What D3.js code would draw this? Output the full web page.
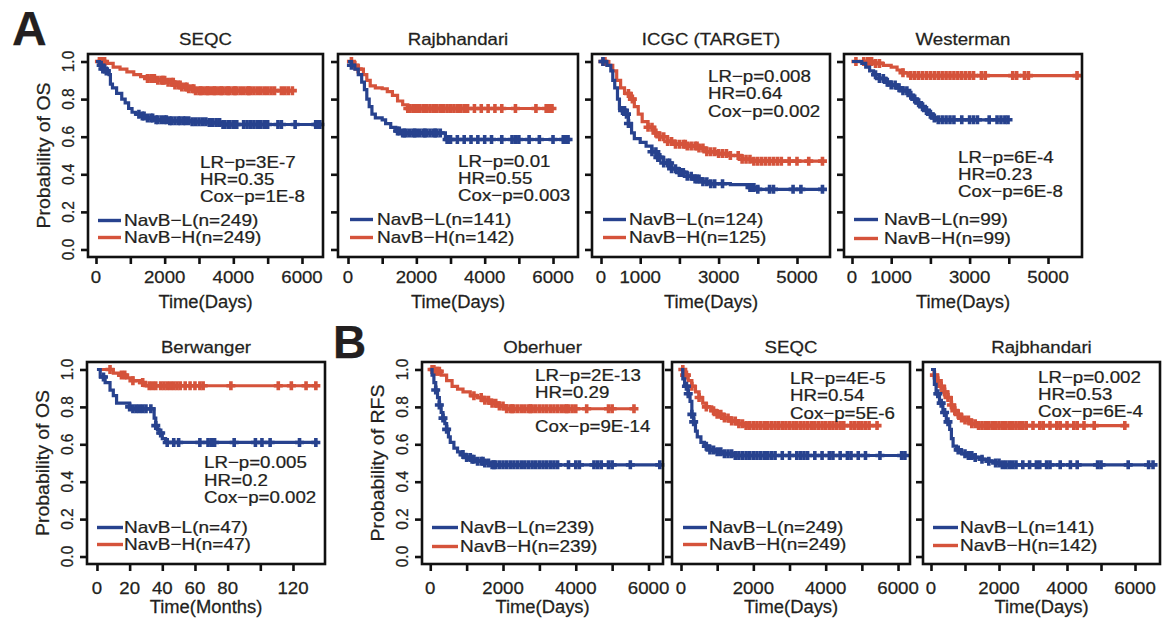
<!DOCTYPE html>
<html>
<head>
<meta charset="utf-8">
<script src="https://cdn.jsdelivr.net/npm/d3@7"></script>
<style>
  body { margin: 0; background: #fff; }
  svg { display: block; }
  text { font-family: "Liberation Sans", Arial, Helvetica, sans-serif; fill: #231f20; stroke: #231f20; stroke-width: 0.25; }
</style>
</head>
<body>
<script>
// Kaplan-Meier panels, NavB-L (blue) vs NavB-H (red)
// steps are [time, survival], censor lists are times only

// A: SEQC (OS, days)
var seqcOS_L = [[0,1],[100,0.98],[200,0.96],[300,0.95],[380,0.93],[420,0.88],[480,0.86],[600,0.83],[750,0.80],[850,0.78],[950,0.75],[1050,0.73],[1150,0.72],[1300,0.71],[1500,0.70],[1700,0.69],[2100,0.685],[2800,0.68],[3300,0.675],[3700,0.665],[6520,0.665]];
var seqcOS_H = [[0,1],[300,0.99],[500,0.97],[700,0.96],[900,0.945],[1100,0.93],[1300,0.92],[1500,0.91],[1800,0.90],[2100,0.89],[2300,0.875],[2500,0.865],[2700,0.855],[2900,0.845],[5720,0.845]];
var seqcOS_Lc = [150,200,250,300,1250,1350,1400,1500,1600,1650,1750,1800,1900,2000,2050,2150,2200,2300,2400,2450,2550,2600,2700,2800,2900,3000,3100,3200,3300,3400,3500,3600,3700,3750,3850,3900,4000,4050,4100,4300,4400,4500,4600,4700,4800,4900,5000,5300,5400,5800,6400,6450,6520];
var seqcOS_Hc = [100,150,200,250,1500,1600,1650,1700,1800,1900,1950,2000,2100,2200,2250,2300,2400,2450,2500,2600,2650,2700,2800,2850,2900,3000,3050,3100,3200,3250,3300,3400,3450,3500,3600,3650,3700,3800,3850,3900,4000,4050,4100,4200,4300,4400,4450,4500,4600,4700,4800,4900,5000,5100,5200,5400,5500,5600,5720];

// A: Rajbhandari (OS, days)
var rajOS_L = [[0,1],[100,0.98],[200,0.96],[300,0.93],[400,0.89],[480,0.85],[550,0.80],[620,0.76],[700,0.72],[800,0.70],[1000,0.69],[1100,0.67],[1250,0.65],[1400,0.63],[1550,0.62],[2750,0.62],[2850,0.585],[6440,0.585]];
var rajOS_H = [[0,1],[150,0.98],[300,0.96],[450,0.93],[550,0.90],[650,0.87],[800,0.86],[1000,0.855],[1150,0.84],[1300,0.82],[1450,0.79],[1600,0.77],[1750,0.75],[5970,0.75]];
var rajOS_Lc = [100,1450,1500,1600,1650,1700,1800,1900,1950,2000,2100,2200,2250,2300,2400,2500,2550,2600,2700,2900,2950,3000,3200,3400,3600,3800,4000,4200,4500,4800,4900,5000,5300,5600,6000,6300,6380,6440];
var rajOS_Hc = [100,200,300,1750,1800,1900,1950,2000,2100,2200,2250,2300,2400,2500,2550,2600,2700,2800,2900,3000,3100,3200,3300,3400,3500,3700,3900,4100,4300,4500,4900,5500,5800,5900,5970];

// A: ICGC (TARGET) (OS, days)
var icgcOS_L = [[0,1],[150,0.98],[250,0.95],[300,0.90],[350,0.86],[420,0.80],[470,0.75],[550,0.74],[650,0.72],[700,0.67],[780,0.62],[850,0.59],[1000,0.57],[1150,0.55],[1300,0.52],[1450,0.49],[1600,0.46],[1800,0.43],[2000,0.41],[2200,0.39],[2400,0.375],[2600,0.36],[2800,0.35],[3300,0.345],[3800,0.33],[4000,0.32],[5650,0.32]];
var icgcOS_H = [[0,1],[200,0.98],[300,0.95],[400,0.90],[500,0.86],[600,0.83],[750,0.80],[850,0.76],[950,0.72],[1050,0.68],[1200,0.65],[1350,0.62],[1500,0.60],[1700,0.575],[1900,0.56],[2200,0.55],[2500,0.54],[2700,0.52],[3000,0.51],[3300,0.50],[3600,0.48],[3900,0.47],[5650,0.47]];
var icgcOS_Lc = [50,550,600,650,700,1300,1400,1450,1500,1600,1700,1750,1800,1900,2000,2050,2100,2200,2300,2400,2450,2500,2600,2700,2800,2900,3100,3800,3850,3900,4000,4300,4400,4900,5100,5650];
var icgcOS_Hc = [50,100,700,800,1200,1300,1400,1500,1600,1700,1800,1900,2000,2100,2150,2200,2300,2400,2450,2500,2600,2700,2800,2900,3000,3100,3200,3300,3500,3600,3700,3800,3900,4000,4100,4200,4300,4400,4500,4600,4800,5000,5300,5650];

// A: Westerman (OS, days)
var westOS_L = [[0,1],[250,0.99],[350,0.97],[450,0.95],[550,0.93],[700,0.91],[850,0.89],[1000,0.875],[1150,0.86],[1300,0.845],[1450,0.82],[1550,0.80],[1650,0.78],[1750,0.76],[1850,0.74],[1950,0.72],[2050,0.70],[2150,0.69],[3980,0.69]];
var westOS_H = [[0,1],[600,0.99],[800,0.98],[1000,0.97],[1150,0.955],[1300,0.94],[1450,0.925],[5740,0.925]];
var westOS_Lc = [600,700,800,900,1000,1100,1200,1300,1400,1500,1600,1700,1800,1900,2000,2100,2200,2300,2400,2500,2600,2800,3000,3100,3200,3500,3700,3800,3900,3980];
var westOS_Hc = [100,300,400,450,500,600,700,1300,1500,1600,1700,1800,1900,2000,2100,2200,2300,2400,2500,2600,2700,2800,2900,3000,3100,3300,3400,4100,4200,4400,4500,5740];

// A: Berwanger (OS, months)
var berwOS_L = [[0,1],[2,0.96],[5,0.93],[8,0.89],[10,0.86],[12,0.82],[20,0.80],[22,0.79],[34,0.79],[35,0.74],[36,0.70],[37,0.68],[38,0.66],[40,0.63],[42,0.61],[135,0.61]];
var berwOS_H = [[0,1],[10,0.98],[14,0.97],[18,0.955],[22,0.94],[26,0.93],[29,0.913],[135,0.913]];
var berwOS_Lc = [4,20,22,24,26,28,30,33,36,39,43,47,50,63,68,70,72,84,97,101,106,124,134];
var berwOS_Hc = [8,15,17,22,28,32,34,36,39,41,43,45,47,49,51,54,57,60,63,65,82,111,119,128,134];

// B: Oberhuer (RFS, days)
var oberRFS_L = [[0,1],[50,0.97],[100,0.93],[150,0.89],[200,0.85],[250,0.81],[300,0.77],[350,0.74],[400,0.71],[450,0.68],[500,0.64],[550,0.61],[650,0.58],[750,0.56],[850,0.545],[1000,0.53],[1150,0.52],[1300,0.51],[1500,0.50],[1650,0.49],[6310,0.49]];
var oberRFS_H = [[0,1],[150,0.99],[300,0.97],[450,0.94],[600,0.91],[750,0.895],[900,0.88],[1100,0.86],[1300,0.85],[1500,0.835],[1700,0.82],[1900,0.805],[2100,0.79],[5600,0.79]];
var oberRFS_Lc = [150,250,350,450,900,1000,1100,1150,1200,1300,1400,1450,1500,1600,1700,1750,1800,1900,2000,2100,2200,2300,2400,2500,2600,2700,2800,2900,3000,3100,3200,3300,3400,3500,3800,4000,4100,4500,4600,4700,4900,5000,5500,6310];
var oberRFS_Hc = [50,100,150,200,250,1200,1400,1500,1600,1700,1800,1900,2000,2100,2200,2250,2300,2400,2500,2600,2700,2750,2800,2900,3000,3100,3200,3300,3400,3500,3600,3700,3750,3800,3900,4000,4300,4900,5000,5600];

// B: SEQC (RFS, days)
var seqcRFS_L = [[0,1],[50,0.95],[100,0.91],[200,0.87],[250,0.83],[300,0.76],[350,0.72],[400,0.67],[450,0.64],[550,0.61],[650,0.59],[800,0.57],[1000,0.56],[1200,0.55],[1500,0.54],[6190,0.54]];
var seqcRFS_H = [[0,1],[100,0.97],[200,0.94],[300,0.91],[400,0.88],[500,0.85],[600,0.82],[700,0.80],[850,0.78],[1000,0.76],[1200,0.74],[1400,0.725],[1600,0.71],[1800,0.70],[5420,0.70]];
var seqcRFS_Lc = [150,200,300,350,700,800,900,1000,1100,1200,1300,1400,1500,1600,1700,1800,1900,2000,2100,2200,2300,2400,2500,2600,2800,3000,3200,3300,3400,3500,3700,3900,4100,4200,4400,4600,4700,4900,5100,5500,6100,6190];
var seqcRFS_Hc = [50,100,150,300,500,700,900,1000,1100,1200,1300,1400,1500,1600,1700,1800,1900,2000,2100,2200,2300,2400,2500,2600,2700,2800,2900,3000,3100,3200,3300,3400,3500,3600,3700,3800,3900,4000,4100,4200,4300,4400,4500,4700,4800,4900,5000,5100,5200,5420];

// B: Rajbhandari (RFS, days)
var rajRFS_L = [[0,1],[100,0.92],[150,0.87],[250,0.82],[350,0.77],[450,0.72],[550,0.68],[600,0.63],[650,0.59],[750,0.57],[900,0.55],[1100,0.54],[1300,0.53],[1500,0.52],[1700,0.51],[1900,0.50],[2050,0.49],[6530,0.49]];
var rajRFS_H = [[0,1],[100,0.97],[200,0.94],[300,0.91],[400,0.88],[500,0.85],[600,0.81],[700,0.78],[800,0.76],[900,0.74],[1000,0.73],[1200,0.71],[1400,0.70],[5760,0.70]];
var rajRFS_Lc = [200,300,400,500,800,1000,1100,1200,1300,1500,1700,1900,2000,2100,2200,2300,2400,2500,2700,2900,3100,3200,3400,3500,3800,4100,4300,4900,5000,5800,6400,6530];
var rajRFS_Hc = [100,200,300,400,500,600,700,800,900,1000,1100,1200,1300,1400,1500,1600,1700,1800,1900,2000,2100,2200,2300,2400,2500,2600,2700,2800,3000,3200,3300,3500,3700,3800,4000,4200,4300,4500,4800,5700];

// text per panel
var titles = ['SEQC', 'Rajbhandari', 'ICGC (TARGET)', 'Westerman', 'Berwanger', 'Oberhuer', 'SEQC', 'Rajbhandari'];
var stats = [
  ['LR\u2212p=3E-7', 'HR=0.35', 'Cox\u2212p=1E-8'],
  ['LR\u2212p=0.01', 'HR=0.55', 'Cox\u2212p=0.003'],
  ['LR\u2212p=0.008', 'HR=0.64', 'Cox\u2212p=0.002'],
  ['LR\u2212p=6E-4', 'HR=0.23', 'Cox\u2212p=6E-8'],
  ['LR\u2212p=0.005', 'HR=0.2', 'Cox\u2212p=0.002'],
  ['LR\u2212p=2E-13', 'HR=0.29', 'Cox\u2212p=9E-14'],
  ['LR\u2212p=4E-5', 'HR=0.54', 'Cox\u2212p=5E-6'],
  ['LR\u2212p=0.002', 'HR=0.53', 'Cox\u2212p=6E-4']
];
var nLow  = [249, 141, 124, 99, 47, 239, 249, 141];
var nHigh = [249, 142, 125, 99, 47, 239, 249, 142];
var yTicks = [0, 0.2, 0.4, 0.6, 0.8, 1.0];

var blue = '#27428e', red = '#d5533b';
var W = 1164, H = 622;

// layout: box [x0,y0,x1,y1], x domain, stat block & legend positions
var panels = [
  {L: seqcOS_L, Hh: seqcOS_H, Lc: seqcOS_Lc, Hc: seqcOS_Hc, box: [88,54,323,257], xd: [-233,6612], ticks: d3.range(0,7000,1000), lab: [0,2000,4000,6000], ylab: 'Probability of OS', xlab: 'Time(Days)', st: [200,[168,185,202]], lg: [98,121,124,[226,243]]},
  {L: rajOS_L, Hh: rajOS_H, Lc: rajOS_Lc, Hc: rajOS_Hc, box: [338,54,578,257], xd: [-293,6731], ticks: d3.range(0,7000,1000), lab: [0,2000,4000,6000], xlab: 'Time(Days)', st: [458,[167,184,201]], lg: [350,373,377,[225,243]]},
  {L: icgcOS_L, Hh: icgcOS_H, Lc: icgcOS_Lc, Hc: icgcOS_Hc, box: [592,54,830,257], xd: [-230,5842], ticks: d3.range(0,6000,1000), lab: [0,1000,3000,5000], xlab: 'Time(Days)', st: [708,[82,99,117]], lg: [603,626,629,[225,243]]},
  {L: westOS_L, Hh: westOS_H, Lc: westOS_Lc, Hc: westOS_Hc, box: [844,54,1082,257], xd: [-204,5867], ticks: d3.range(0,6000,1000), lab: [0,1000,3000,5000], xlab: 'Time(Days)', st: [958,[163,180,197]], lg: [854,878,884,[225,244]]},
  {L: berwOS_L, Hh: berwOS_H, Lc: berwOS_Lc, Hc: berwOS_Hc, box: [87,362,325,564], xd: [-6.1,139.6], ticks: d3.range(0,140,20), lab: [0,20,40,60,80,120], ylab: 'Probability of OS', xlab: 'Time(Months)', st: [204,[468,486,503]], lg: [97,123,124,[533,550]]},
  {L: oberRFS_L, Hh: oberRFS_H, Lc: oberRFS_Lc, Hc: oberRFS_Hc, box: [422,362,663,564], xd: [-227,6398], ticks: d3.range(0,7000,1000), lab: [0,2000,4000,6000], ylab: 'Probability of RFS', xlab: 'Time(Days)', st: [535,[381,398,432]], lg: [432,458,460,[533,552]]},
  {L: seqcRFS_L, Hh: seqcRFS_H, Lc: seqcRFS_Lc, Hc: seqcRFS_Hc, box: [672,362,910,564], xd: [-249,6331], ticks: d3.range(0,7000,1000), lab: [0,2000,4000,6000], xlab: 'Time(Days)', st: [790,[384,401,419]], lg: [683,707,709,[533,550]]},
  {L: rajRFS_L, Hh: rajRFS_H, Lc: rajRFS_Lc, Hc: rajRFS_Hc, box: [923,362,1160,564], xd: [-235,6735], ticks: d3.range(0,7000,1000), lab: [0,2000,4000,6000], xlab: 'Time(Days)', st: [1038,[383,400,417]], lg: [933,958,960,[533,551]]}
];

var svg = d3.select('body').append('svg')
  .attr('width', W)
  .attr('height', H);

// text is a little wider than the font, so stretch it sideways
function label(g, x, y, s, o) {
  o = o || {};
  var t = g.append('text')
    .attr('transform', 'translate(' + x + ',' + y + ') scale(' + (o.sx || 1.1) + ',1)' + (o.rot ? ' rotate(-90)' : ''))
    .attr('font-size', o.size || 17)
    .attr('text-anchor', o.anchor || 'start')
    .text(s);
  if (o.bold) t.attr('font-weight', 'bold');
  return t;
}

function survAt(curve, t) {
  var s = curve[0][1];
  for (var i = 0; i < curve.length; i++) {
    if (curve[i][0] <= t) s = curve[i][1];
    else break;
  }
  return s;
}

panels.forEach(function(p, i) {
  var b = p.box;
  var g = svg.append('g');
  var x = d3.scaleLinear().domain(p.xd).range([b[0], b[2]]);
  var y = d3.scaleLinear().domain([-0.04, 1.04]).range([b[3], b[1]]);
  var top = i < 4;

  var line = d3.line()
    .x(function(d) { return x(d[0]); })
    .y(function(d) { return y(d[1]); })
    .curve(d3.curveStepAfter);

  // curves: high first, low on top
  [[p.Hh, p.Hc, red], [p.L, p.Lc, blue]].forEach(function(c) {
    g.append('path')
      .attr('d', line(c[0]))
      .attr('fill', 'none')
      .attr('stroke', c[2])
      .attr('stroke-width', 3.2);
    g.selectAll(null)
      .data(c[1])
      .enter().append('path')
      .attr('d', 'M-4.5,0H4.5M0,-4.5V4.5')
      .attr('transform', function(t) { return 'translate(' + x(t) + ',' + y(survAt(c[0], t)) + ')'; })
      .attr('stroke', c[2])
      .attr('stroke-width', 3.6);
  });

  // frame
  g.append('rect')
    .attr('x', b[0]).attr('y', b[1])
    .attr('width', b[2] - b[0]).attr('height', b[3] - b[1])
    .attr('fill', 'none')
    .attr('stroke', '#111')
    .attr('stroke-width', 2.6);

  // x axis
  var xa = g.append('g')
    .attr('transform', 'translate(0,' + b[3] + ')')
    .call(d3.axisBottom(x).tickValues(p.ticks).tickSize(7).tickFormat(''));
  xa.select('.domain').remove();
  xa.selectAll('line').attr('stroke', '#111').attr('stroke-width', 2.6);
  p.lab.forEach(function(v) {
    label(g, x(v), top ? 283 : 594, v, {anchor: 'middle', size: 16.5, sx: 1.13});
  });
  label(g, (b[0] + b[2]) / 2, top ? 308 : 613, p.xlab, {anchor: 'middle', size: 17.5, sx: 1.05});

  // y axis
  var ya = g.append('g')
    .attr('transform', 'translate(' + b[0] + ',0)')
    .call(d3.axisLeft(y).tickValues(yTicks).tickSize(7).tickFormat(''));
  ya.select('.domain').remove();
  ya.selectAll('line').attr('stroke', '#111').attr('stroke-width', 2.6);
  if (p.ylab) {
    yTicks.forEach(function(v) {
      label(g, b[0] - 14, y(v), v.toFixed(1), {anchor: 'middle', size: 15.5, sx: 1.12, rot: true});
    });
    label(g, b[0] - 38, (b[1] + b[3]) / 2, p.ylab, {anchor: 'middle', size: 19.5, sx: 0.95, rot: true});
  }

  // title
  label(g, (b[0] + b[2]) / 2, top ? 45 : 353, titles[i], {anchor: 'middle', size: 16.5, sx: 1.13});

  // stats block
  stats[i].forEach(function(s, k) {
    label(g, p.st[0], p.st[1][k], s);
  });

  // legend
  [['NavB\u2212L(n=' + nLow[i] + ')', blue], ['NavB\u2212H(n=' + nHigh[i] + ')', red]].forEach(function(e, k) {
    var by = p.lg[3][k];
    g.append('line')
      .attr('x1', p.lg[0]).attr('x2', p.lg[1])
      .attr('y1', by - 5.5).attr('y2', by - 5.5)
      .attr('stroke', e[1])
      .attr('stroke-width', 3.4);
    label(g, p.lg[2], by, e[0], {sx: 1.12});
  });
});

// panel letters
label(svg, 12, 45, 'A', {size: 48, sx: 1, bold: true});
label(svg, 333, 358, 'B', {size: 46, sx: 1, bold: true});
</script>
</body>
</html>
